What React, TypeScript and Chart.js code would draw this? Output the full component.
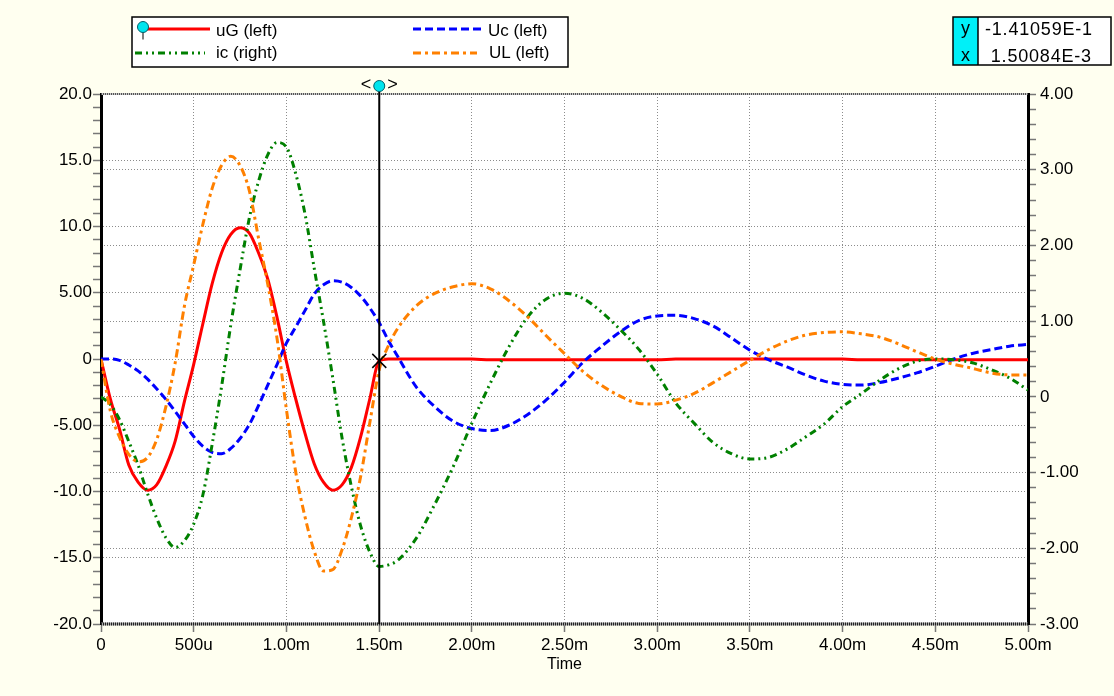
import React, { useEffect, useRef } from "react";
import { Chart, registerables } from "chart.js";

Chart.register(...registerables);

const FONT = '"Liberation Sans", Arial, Helvetica, sans-serif';
const BG = "#FFFFF0";
const GRID = "#8c8c8c";

// time in ms
const TIME_MS = [
  0, 0.05, 0.1, 0.15, 0.2, 0.25, 0.3, 0.35, 0.4, 0.45,
  0.5, 0.55, 0.6, 0.65, 0.7, 0.75, 0.8, 0.85, 0.9, 0.95,
  1.0, 1.05, 1.1, 1.15, 1.2, 1.25, 1.3, 1.35, 1.4, 1.45,
  1.5, 1.55, 1.6,
  1.7, 1.8, 1.9, 2.0,
  2.1, 2.2, 2.3, 2.4, 2.5, 2.6, 2.7, 2.8, 2.9, 3.0,
  3.1, 3.2, 3.3, 3.4, 3.5, 3.6, 3.7, 3.8, 3.9, 4.0,
  4.1, 4.2, 4.3, 4.4, 4.5, 4.6, 4.7, 4.8, 4.9, 5.0,
];

const UG_LEFT = [
  0, -3.0, -5.3, -8.0, -9.3, -9.9, -9.5, -8.1, -6.2, -3.2,
  -0.4, 2.7, 5.7, 8.0, 9.4, 9.9, 9.5, 8.0, 6.0, 3.1,
  -0.2, -3.0, -5.6, -7.9, -9.3, -9.9, -9.5, -8.2, -5.9, -3.0,
  -0.14, 0, 0,
  0, 0, 0, 0,
  -0.06, -0.06, -0.06, -0.06, -0.06, -0.06, -0.06, -0.06, -0.06, -0.06,
  0, 0, 0, 0, 0, 0, 0, 0, 0, 0,
  -0.06, -0.06, -0.06, -0.06, -0.06, -0.06, -0.06, -0.06, -0.06, -0.06,
];

const UC_LEFT = [
  0, 0, -0.1, -0.45, -0.9, -1.5, -2.25, -3.05, -3.95, -4.9,
  -5.85, -6.6, -7.05, -7.15, -6.75, -6.0, -4.95, -3.5, -1.95, -0.4,
  1.2, 2.4, 3.65, 4.9, 5.6, 5.9, 5.8, 5.4, 4.75, 3.85,
  2.75, 1.4, 0.2,
  -2.1, -3.6, -4.7, -5.25,
  -5.4, -5.0, -4.2, -3.1, -1.75, -0.25, 0.95, 2.05, 2.9, 3.25,
  3.3, 3.05, 2.5, 1.6, 0.66, -0.05, -0.6, -1.2, -1.67, -1.92,
  -1.97, -1.78, -1.45, -1.05, -0.55, 0.0, 0.42, 0.7, 0.97, 1.1,
];

const IC_RIGHT = [
  0, -0.1, -0.3, -0.59, -0.9, -1.27, -1.6, -1.86, -1.99, -1.9,
  -1.68, -1.29, -0.62, 0.13, 0.95, 1.68, 2.36, 2.85, 3.2, 3.36,
  3.3, 2.95, 2.42, 1.7, 1.0, 0.25, -0.54, -1.18, -1.7, -2.05,
  -2.24, -2.22, -2.16,
  -1.87, -1.42, -0.92, -0.35,
  0.18, 0.66, 1.05, 1.29, 1.37, 1.3, 1.12, 0.89, 0.63, 0.3,
  -0.08, -0.35, -0.6, -0.75, -0.82, -0.8, -0.69, -0.53, -0.36, -0.13,
  0.04, 0.22, 0.37, 0.47, 0.5, 0.49, 0.45, 0.36, 0.25, 0.09,
];

const UL_LEFT = [
  0, -3.9, -5.9, -7.2, -7.75, -7.45, -6.1, -3.6, -0.3, 4.0,
  7.1, 10.2, 12.9, 14.6, 15.3, 14.6, 12.7, 9.1, 5.6, 1.5,
  -3.8, -8.5, -11.9, -14.5, -16.0, -15.9, -14.4, -12.0, -8.9, -4.8,
  -0.85, 1.0, 2.3,
  4.0, 4.95, 5.45, 5.68,
  5.3, 4.4, 3.2, 1.77, 0.4, -0.95, -2.0, -2.8, -3.35, -3.4,
  -3.1, -2.6, -1.8, -0.95, -0.1, 0.7, 1.35, 1.8, 2.0, 2.05,
  1.9, 1.65, 1.15, 0.55, 0.0, -0.4, -0.7, -1.05, -1.2, -1.2,
];

const SERIES_NAMES = ["uG (left)", "Uc (left)", "ic (right)", "UL (left)"];
const X_TICK_LABELS = ["0", "500u", "1.00m", "1.50m", "2.00m", "2.50m", "3.00m", "3.50m", "4.00m", "4.50m", "5.00m"];
const LEFT_TICK_LABELS = ["-20.0", "-15.0", "-10.0", "-5.00", "0", "5.00", "10.0", "15.0", "20.0"];
const RIGHT_TICK_LABELS = ["-3.00", "-2.00", "-1.00", "0", "1.00", "2.00", "3.00", "4.00"];
const X_TITLE = "Time";
const CURSOR_T = 1.50084;
const CURSOR_V = -0.141059;
const READOUT_Y = "-1.41059E-1";
const READOUT_X = " 1.50084E-3";

const STYLES = [
  { color: "#FF0000", dash: [] as number[] },
  { color: "#0000FF", dash: [8, 4] },
  { color: "#008000", dash: [7, 4, 2, 4, 2, 4] },
  { color: "#FF8000", dash: [8, 4, 3, 4] },
];

const near = (v: number, step: number) => Math.abs(v / step - Math.round(v / step)) < 1e-6;

function line(ctx: CanvasRenderingContext2D, x1: number, y1: number, x2: number, y2: number) {
  ctx.beginPath();
  ctx.moveTo(x1, y1);
  ctx.lineTo(x2, y2);
  ctx.stroke();
}

function pin(ctx: CanvasRenderingContext2D, cx: number, cy: number, r: number, stem: number) {
  ctx.setLineDash([]);
  ctx.strokeStyle = "#000";
  ctx.lineWidth = 1;
  if (stem > 0) line(ctx, cx, cy + r, cx, cy + r + stem);
  ctx.beginPath();
  ctx.arc(cx, cy, r, 0, Math.PI * 2);
  ctx.fillStyle = "#00E5EE";
  ctx.fill();
  ctx.strokeStyle = "#00606a";
  ctx.stroke();
}

const decorPlugin = {
  id: "decor",
  beforeDraw(chart: any) {
    const { ctx, chartArea: a, width, height } = chart;
    ctx.save();
    ctx.fillStyle = BG;
    ctx.fillRect(0, 0, width, height);
    ctx.fillStyle = "#FFFFFF";
    ctx.fillRect(a.left, a.top, a.right - a.left, a.bottom - a.top);
    ctx.restore();
  },
  afterDraw(chart: any) {
    const { ctx, chartArea: a, scales } = chart;
    const xs = scales.x;
    const yl = scales.yL;
    ctx.save();
    // top border (dotted)
    ctx.lineWidth = 2;
    ctx.setLineDash([]);
    ctx.strokeStyle = "#c8c8c8";
    line(ctx, a.left, a.top, a.right, a.top);
    ctx.setLineDash([1, 1]);
    ctx.strokeStyle = "#555";
    line(ctx, a.left, a.top, a.right, a.top);
    // bottom border
    ctx.lineWidth = 3;
    ctx.setLineDash([]);
    ctx.strokeStyle = "#a8a8a8";
    line(ctx, a.left, a.bottom, a.right, a.bottom);
    ctx.setLineDash([1, 1]);
    ctx.strokeStyle = "#222";
    line(ctx, a.left, a.bottom, a.right, a.bottom);

    // cursor
    const cx = xs.getPixelForValue(CURSOR_T);
    const cy = yl.getPixelForValue(CURSOR_V);
    ctx.setLineDash([]);
    ctx.strokeStyle = "#000";
    ctx.lineWidth = 2;
    line(ctx, cx, 86, cx, a.bottom);
    ctx.lineWidth = 1.5;
    line(ctx, cx - 7, cy - 7, cx + 7, cy + 7);
    line(ctx, cx - 7, cy + 7, cx + 7, cy - 7);
    pin(ctx, cx, 86, 5.5, 0);
    ctx.fillStyle = "#000";
    ctx.font = `18px ${FONT}`;
    ctx.textBaseline = "middle";
    ctx.textAlign = "right";
    ctx.fillText("<", cx - 8, 85);
    ctx.textAlign = "left";
    ctx.fillText(">", cx + 8, 85);

    // legend box
    const lx = 132, ly = 17, lw = 436, lh = 50;
    ctx.fillStyle = "#FFFFFF";
    ctx.fillRect(lx, ly, lw, lh);
    ctx.lineWidth = 1.5;
    ctx.strokeStyle = "#000";
    ctx.strokeRect(lx, ly, lw, lh);
    const entries = [
      { i: 0, x1: 143, x2: 210, y: 29, tx: 216, ty: 31 },
      { i: 1, x1: 413, x2: 483, y: 29, tx: 488, ty: 31 },
      { i: 2, x1: 135, x2: 205, y: 53, tx: 216, ty: 53 },
      { i: 3, x1: 413, x2: 477, y: 53, tx: 489, ty: 53 },
    ];
    for (const e of entries) {
      const st = STYLES[e.i];
      ctx.lineWidth = 3;
      ctx.strokeStyle = st.color;
      ctx.setLineDash(st.dash);
      line(ctx, e.x1, e.y, e.x2, e.y);
      ctx.setLineDash([]);
      ctx.fillStyle = "#000";
      ctx.font = `17px ${FONT}`;
      ctx.textAlign = "left";
      ctx.textBaseline = "middle";
      ctx.fillText(SERIES_NAMES[e.i], e.tx, e.ty);
    }
    pin(ctx, 143, 27, 5.5, 7);

    // readout box
    const rx = 953, ry = 17, rw = 158, rh = 48;
    ctx.fillStyle = "#FFFFFF";
    ctx.fillRect(rx, ry, rw, rh);
    ctx.fillStyle = "#00F0F8";
    ctx.fillRect(rx, ry, 25, rh);
    ctx.lineWidth = 1.5;
    ctx.strokeStyle = "#000";
    ctx.strokeRect(rx, ry, rw, rh);
    line(ctx, rx + 25, ry, rx + 25, ry + rh);
    ctx.fillStyle = "#000";
    ctx.font = `18px ${FONT}`;
    ctx.textBaseline = "middle";
    ctx.textAlign = "center";
    ctx.fillText("y", rx + 12.5, 29);
    ctx.fillText("x", rx + 12.5, 56);
    ctx.textAlign = "left";
    (ctx as any).letterSpacing = "0.8px";
    ctx.fillText(READOUT_Y, 985, 30);
    ctx.fillText(READOUT_X, 985, 57);
    (ctx as any).letterSpacing = "0px";
    ctx.restore();
  },
};

function makeDataset(i: number, values: number[], axis: string, order: number) {
  return {
    label: SERIES_NAMES[i],
    data: TIME_MS.map((t, k) => ({ x: t, y: values[k] })),
    yAxisID: axis,
    borderColor: STYLES[i].color,
    backgroundColor: STYLES[i].color,
    borderDash: STYLES[i].dash,
    borderWidth: 3,
    pointRadius: 0,
    cubicInterpolationMode: "monotone" as const,
    fill: false,
    order,
  };
}

export default function App() {
  const ref = useRef<HTMLCanvasElement>(null);
  useEffect(() => {
    document.body.style.margin = "0";
    document.body.style.background = BG;
    const canvas = ref.current;
    if (!canvas) return;
    const tickFont = { family: FONT, size: 17 };
    const chart = new Chart(canvas, {
      type: "line",
      data: {
        datasets: [
          makeDataset(0, UG_LEFT, "yL", 4),
          makeDataset(1, UC_LEFT, "yL", 3),
          makeDataset(2, IC_RIGHT, "yR", 2),
          makeDataset(3, UL_LEFT, "yL", 1),
        ],
      },
      options: {
        animation: false,
        responsive: false,
        devicePixelRatio: 1,
        layout: { padding: { top: 94, left: 0, right: 0, bottom: 0 } },
        plugins: { legend: { display: false }, tooltip: { enabled: false } },
        scales: {
          x: {
            type: "linear",
            min: 0,
            max: 5,
            afterFit: (s: any) => {
              s.height = 72;
            },
            ticks: {
              stepSize: 0.5,
              autoSkip: false,
              maxRotation: 0,
              minRotation: 0,
              color: "#000",
              font: tickFont,
              padding: 3,
              callback: (v: any) => X_TICK_LABELS[Math.round(Number(v) / 0.5)] ?? "",
            },
            grid: {
              color: GRID,
              lineWidth: 1,
              tickLength: 8,
              tickColor: "#777",
              tickWidth: 1.5,
            },
            border: { display: false, dash: [1, 2] },
            title: {
              display: true,
              text: X_TITLE,
              color: "#000",
              font: { family: FONT, size: 16 },
              padding: { top: 0, bottom: 22 },
            },
          },
          yL: {
            type: "linear",
            position: "left",
            min: -20,
            max: 20,
            afterFit: (s: any) => {
              s.width = 101;
            },
            ticks: {
              stepSize: 1,
              autoSkip: false,
              color: "#000",
              font: tickFont,
              padding: 1,
              callback: (v: any) => {
                const n = Number(v);
                return near(n, 5) ? LEFT_TICK_LABELS[Math.round((n + 20) / 5)] ?? "" : "";
              },
            },
            grid: {
              color: (c: any) => (c.tick && near(c.tick.value, 5) ? GRID : "rgba(0,0,0,0)"),
              lineWidth: 1,
              tickLength: 8,
              tickColor: "#777",
              tickWidth: 1.5,
            },
            border: { display: true, color: "#000", width: 3, dash: [1, 2] },
          },
          yR: {
            type: "linear",
            position: "right",
            min: -3,
            max: 4,
            afterFit: (s: any) => {
              s.width = 86;
            },
            ticks: {
              stepSize: 0.2,
              autoSkip: false,
              color: "#000",
              font: tickFont,
              padding: 4,
              callback: (v: any) => {
                const n = Number(v);
                return near(n, 1) ? RIGHT_TICK_LABELS[Math.round(n) + 3] ?? "" : "";
              },
            },
            grid: {
              color: (c: any) => (c.tick && near(c.tick.value, 1) ? GRID : "rgba(0,0,0,0)"),
              lineWidth: 1,
              tickLength: 8,
              tickColor: "#777",
              tickWidth: 1.5,
            },
            border: { display: true, color: "#000", width: 3, dash: [1, 2] },
          },
        },
      } as any,
      plugins: [decorPlugin],
    });
    return () => chart.destroy();
  }, []);
  return (
    <div style={{ position: "fixed", left: 0, top: 0, width: 1114, height: 696 }}>
      <canvas ref={ref} width={1114} height={696} style={{ display: "block" }} />
    </div>
  );
}
